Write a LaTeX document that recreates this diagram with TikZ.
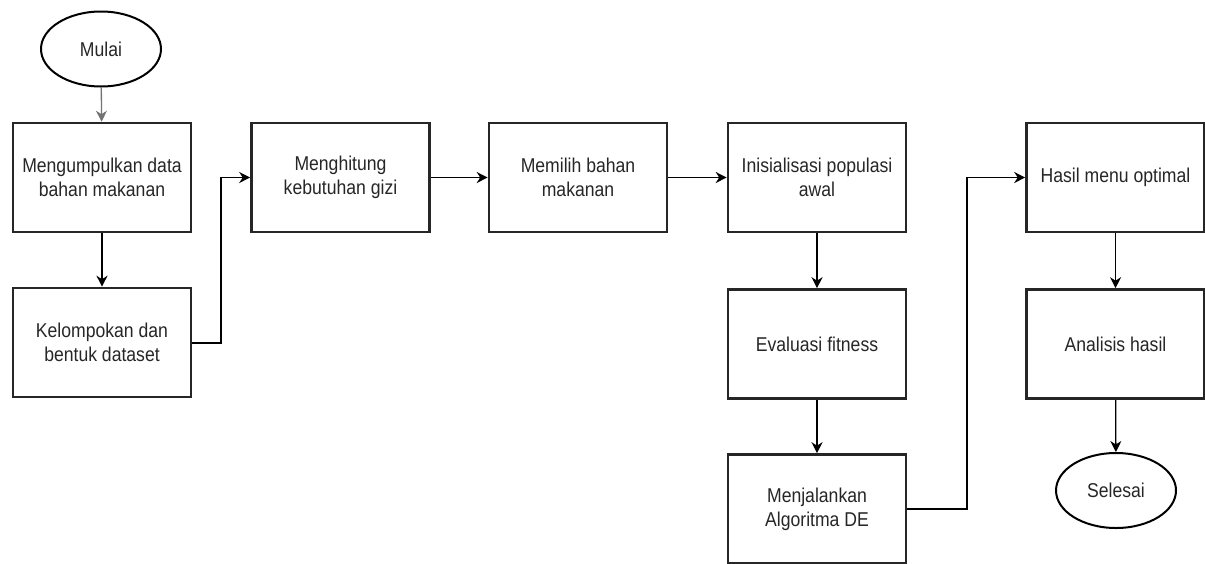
\documentclass[tikz,border=0pt]{standalone}
\usepackage{fontspec}
\setmainfont{Liberation Sans}[FakeStretch=0.88]
\usetikzlibrary{shapes.geometric,arrows.meta}
\begin{document}
\begin{tikzpicture}[x=1pt,y=-1pt,
  proc/.style={draw=black!85,line width=2.6pt,rectangle,minimum width=178pt,minimum height=109pt,
    align=center,text=black!85,font=\fontsize{20}{24}\selectfont,inner sep=2pt},
  term/.style={draw=black,line width=2pt,ellipse,minimum width=120pt,minimum height=75pt,
    text=black!85,font=\fontsize{20}{24}\selectfont},
  conn/.style={draw=black,line width=1.3pt,-{Stealth[length=11pt,width=11pt,inset=3.5pt]}}]
\useasboundingbox (0,0) rectangle (1205,563);
\node[term] (mulai) at (101,49) {Mulai};
\node[proc] (b1) at (102,177.5) {Mengumpulkan data\\bahan makanan};
\node[proc] (b2) at (102,342.5) {Kelompokan dan\\bentuk dataset};
\node[proc] (b3) at (340.5,177.5) {Menghitung\\kebutuhan gizi};
\node[proc] (b4) at (578,177.5) {Memilih bahan\\makanan};
\node[proc] (b5) at (817,177.5) {Inisialisasi populasi\\awal};
\node[proc] (b6) at (817,344) {Evaluasi fitness};
\node[proc] (b7) at (817,509) {Menjalankan\\Algoritma DE};
\node[proc] (b8) at (1115.5,177.5) {Hasil menu optimal};
\node[proc] (b9) at (1115.5,344) {Analisis hasil};
\node[term] (selesai) at (1116,490.5) {Selesai};
\coordinate (k1) at (221,343);
\coordinate (k2) at (967,509);
\draw[conn,draw=black!55] (mulai) -- (b1);
\draw[conn] (b1) -- (b2);
\draw[conn] (b2.east |- k1) -- (k1) |- (b3.west);
\draw[conn] (b3) -- (b4);
\draw[conn] (b4) -- (b5);
\draw[conn] (b5) -- (b6);
\draw[conn] (b6) -- (b7);
\draw[conn] (b7.east |- k2) -- (k2) |- (b8.west);
\draw[conn] (b8) -- (b9);
\draw[conn] (b9) -- (selesai);
\end{tikzpicture}
\end{document}
